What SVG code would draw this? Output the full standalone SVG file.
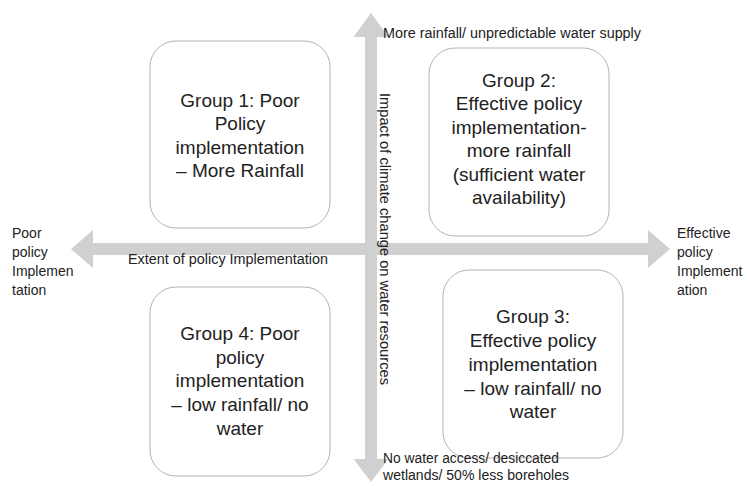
<svg xmlns="http://www.w3.org/2000/svg" width="747" height="486" viewBox="0 0 747 486">
<style>
.box{fill:#fff;stroke:#b4b4b4;stroke-width:1}
.arr{fill:#d0d0d0}
.t{font-family:"Liberation Sans",Arial,sans-serif;font-size:19px;fill:#222;text-anchor:middle}
.s{font-family:"Liberation Sans",Arial,sans-serif;font-size:14px;fill:#222}
</style>
<rect width="747" height="486" fill="#fff"/>
<g id="connectors">
<path class="arr" d="M371,13 L388.5,37 L377,37 L377,459 L388.5,459 L371,482 L353.5,459 L365,459 L365,37 L353.5,37 Z"/>
<path class="arr" d="M71,249 L93,230 L93,243 L648,243 L648,230 L670,249 L648,268 L648,255 L93,255 L93,268 Z"/>
</g>
<g id="group1">
<rect class="box" x="150" y="41" width="180" height="187" rx="26"/>
<text class="t" x="240" y="107">Group 1: Poor</text>
<text class="t" x="240" y="130">Policy</text>
<text class="t" x="240" y="154">implementation</text>
<text class="t" x="240" y="177">– More Rainfall</text>
</g>
<g id="group2">
<rect class="box" x="429" y="48" width="180" height="188" rx="26"/>
<text class="t" x="519" y="87">Group 2:</text>
<text class="t" x="519" y="110">Effective policy</text>
<text class="t" x="519" y="134">implementation-</text>
<text class="t" x="519" y="157">more rainfall</text>
<text class="t" x="519" y="181">(sufficient water</text>
<text class="t" x="519" y="204">availability)</text>
</g>
<g id="group3">
<rect class="box" x="443" y="270" width="180" height="188" rx="26"/>
<text class="t" x="533" y="323">Group 3:</text>
<text class="t" x="533" y="347">Effective policy</text>
<text class="t" x="533" y="371">implementation</text>
<text class="t" x="533" y="395">– low rainfall/ no</text>
<text class="t" x="533" y="418">water</text>
</g>
<g id="group4">
<rect class="box" x="150" y="287" width="180" height="189" rx="26"/>
<text class="t" x="240" y="340">Group 4: Poor</text>
<text class="t" x="240" y="364">policy</text>
<text class="t" x="240" y="387">implementation</text>
<text class="t" x="240" y="411">– low rainfall/ no</text>
<text class="t" x="240" y="435">water</text>
</g>
<g id="labels">
<text class="s" x="383" y="38" textLength="258" lengthAdjust="spacingAndGlyphs">More rainfall/ unpredictable water supply</text>
<text class="s" x="128" y="264" textLength="200" lengthAdjust="spacingAndGlyphs">Extent of policy Implementation</text>
<text class="s" x="12" y="238">Poor</text>
<text class="s" x="12" y="257">policy</text>
<text class="s" x="12" y="276">Implemen</text>
<text class="s" x="12" y="295">tation</text>
<text class="s" x="677" y="238">Effective</text>
<text class="s" x="677" y="257">policy</text>
<text class="s" x="677" y="276">Implement</text>
<text class="s" x="677" y="295">ation</text>
<text class="s" x="383" y="463" textLength="176" lengthAdjust="spacingAndGlyphs">No water access/ desiccated</text>
<text class="s" x="383" y="480" textLength="186" lengthAdjust="spacingAndGlyphs">wetlands/ 50% less boreholes</text>
<text class="s" transform="translate(380,93) rotate(90)" textLength="292" lengthAdjust="spacingAndGlyphs">Impact of climate change on water resources</text>
</g>
</svg>
